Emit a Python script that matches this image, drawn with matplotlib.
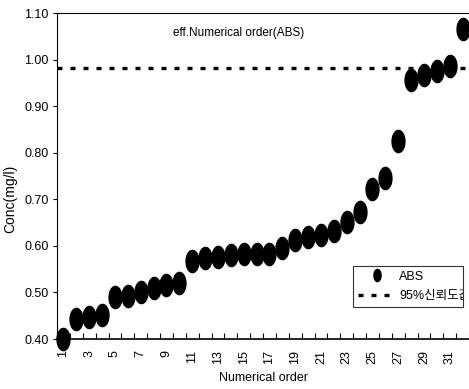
import numpy as np
import matplotlib
matplotlib.use("Agg")
import matplotlib.pyplot as plt
from matplotlib.path import Path
from matplotlib.transforms import Bbox, TransformedBbox

order = list(range(1, 33))
conc = [0.400, 0.443, 0.447, 0.452, 0.490, 0.492, 0.500, 0.510, 0.515, 0.520,
        0.568, 0.575, 0.577, 0.580, 0.583, 0.583, 0.583, 0.595, 0.613, 0.620,
        0.623, 0.632, 0.652, 0.673, 0.722, 0.745, 0.825, 0.957, 0.966, 0.976,
        0.987, 1.066]
limit_value = 0.982
xtick_labels = [str(i) for i in range(1, 32, 2)]
ytick_values = [0.40, 0.50, 0.60, 0.70, 0.80, 0.90, 1.00, 1.10]

NARROW = ['Liberation Sans Narrow', 'Liberation Sans', 'Noto Sans CJK KR', 'DejaVu Sans']
REG = ['Liberation Sans', 'Noto Sans CJK KR', 'DejaVu Sans']

t = np.linspace(0, 2 * np.pi, 60)
ell = Path(np.column_stack([0.58 * np.cos(t), np.sin(t)]), closed=True)

fig = plt.figure(figsize=(4.69, 3.89), dpi=100)
ax = fig.add_axes([57 / 469, 50 / 389, 412 / 469, 326 / 389])

ax.plot(order, conc, linestyle='none', marker=ell, markersize=16,
        color='black', label='ABS', zorder=3, clip_on=False)
ax.axhline(limit_value, color='black', linewidth=2.4, dashes=(1.5, 2.4),
           label='95%신뢰도값', zorder=2)

ax.set_xlim(0.5, 32.5)
ax.set_ylim(0.40, 1.10)
ax.set_xticks(range(1, 32, 2))
ax.set_xticklabels(xtick_labels, rotation=90, fontsize=9, family=REG)
ax.set_xticks(np.arange(0.5, 32.6, 1), minor=True)
ax.tick_params(axis='x', which='major', length=0, pad=8)
ax.tick_params(axis='x', which='minor', direction='in', length=4, width=0.8)
ax.set_yticks(ytick_values)
ax.set_yticklabels([f'{v:.2f}' for v in ytick_values], fontsize=9, family=NARROW)
ax.tick_params(axis='y', direction='out', length=3, width=0.8, pad=3)

ax.spines['right'].set_visible(False)
ax.spines['top'].set_linewidth(0.8)
ax.spines['left'].set_linewidth(0.8)
ax.spines['bottom'].set_linewidth(1.2)

ax.text(0.442, 0.94, 'eff.Numerical order(ABS)', transform=ax.transAxes,
        ha='center', va='center', fontsize=8.5, family=NARROW)
ax.set_xlabel('Numerical order', fontsize=9, family=NARROW, labelpad=6)
ax.set_ylabel('Conc(mg/l)', fontsize=10, family=REG, labelpad=2)
ax.yaxis.set_label_coords(-0.097, 0.43)

leg_box = (0.718, 0.098, 0.267, 0.154)
leg = ax.legend(loc='lower left', bbox_to_anchor=leg_box,
                mode='expand', prop={'family': NARROW, 'size': 9},
                frameon=True, fancybox=False, edgecolor='black',
                handlelength=3.0, handletextpad=0.3, borderaxespad=0,
                borderpad=0.4, labelspacing=0.6, markerscale=0.55)
leg.get_frame().set_linewidth(0.8)
clip = TransformedBbox(Bbox.from_bounds(*leg_box), ax.transAxes)
for txt in leg.get_texts():
    txt.set_clip_on(True)
    txt.set_clip_box(clip)

fig.savefig('out.png', dpi=100)
